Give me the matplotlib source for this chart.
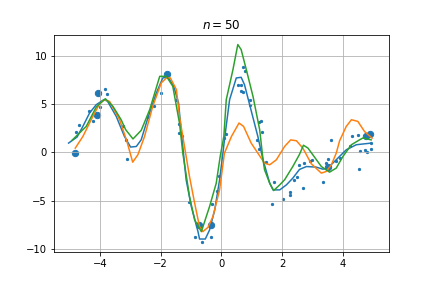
import numpy as np
import matplotlib
matplotlib.use("Agg")
import matplotlib.pyplot as plt

# Pontos de treino (pequenos)
x_pts = [-4.78, -4.69, -4.36, -4.22, -3.83, -3.77, -4.01, -3.25, -3.15, -3.11,
         -2.42, -2.22, -1.99, -1.49, -1.38, -1.41, -1.30, 0.07, 0.14, 0.70,
         0.79, 0.56, 0.66, 0.65, 0.71, 0.93, 0.95, 1.24, 1.31, 1.35,
         1.17, -0.13, -0.08, -1.08, -0.87, -0.64, -0.35, -0.32, 1.46, 1.23,
         1.66, 1.73, 2.03, 2.25, 2.25, 2.38, 2.49, 2.57, 2.72, 2.68,
         2.93, 2.99, 3.34, 3.45, 3.50, 3.76, 3.89, 4.22, 4.53, 4.55,
         4.72, 4.79, 4.94, 4.94, 3.60, 4.29, 4.49]
y_pts = [2.11, 2.79, 4.28, 3.30, 6.55, 6.04, 4.69, 2.69, 1.24, -0.68,
         3.62, 4.80, 6.17, 5.38, 2.97, 2.00, 1.65, 1.45, 1.90, 8.83,
         8.42, 6.97, 6.97, 6.31, 6.20, 5.45, 4.86, 3.10, 3.28, 2.07,
         1.24, -3.93, -2.38, -5.07, -8.69, -9.27, -8.69, -5.34, -1.03, 0.35,
         -5.30, -3.03, -4.82, -4.03, -4.37, -2.82, -2.55, -1.24, -1.10, -3.68,
         -0.86, -0.75, -3.00, -1.10, -0.69, -0.86, -0.52, 0.69, -1.72, 0.18,
         0.28, 0.00, 0.35, 0.97, 1.30, 1.66, 1.76]

# Pontos destacados (grandes)
x_big = [-4.83, -4.06, -4.10, -1.79, -0.75, -0.35, 3.50, 4.75, 4.88]
y_big = [-0.03, 6.14, 3.89, 8.14, -7.50, -7.50, -1.50, 1.70, 1.90]

# Curva azul
x_azul = [-5.03, -4.75, -4.56, -4.34, -4.12, -3.87, -3.75, -3.46, -3.19, -2.99,
          -2.80, -2.64, -2.42, -2.14, -1.93, -1.76, -1.57, -1.41, -1.30, -1.16,
          -0.99, -0.77, -0.72, -0.53, -0.39, -0.22, -0.06, 0.05, 0.10, 0.27,
          0.49, 0.65, 0.76, 0.93, 1.20, 1.37, 1.59, 1.70, 1.92, 2.14,
          2.35, 2.57, 2.80, 3.12, 3.34, 3.50, 3.78, 4.11, 4.44, 4.93]
y_azul = [0.97, 1.60, 2.69, 4.07, 4.93, 5.45, 5.30, 3.72, 1.65, 0.56,
          0.62, 1.31, 3.56, 6.14, 7.69, 7.80, 6.83, 5.10, 1.50, -2.82,
          -5.58, -8.17, -8.93, -8.93, -8.00, -5.93, -2.82, -0.07, 1.31, 5.45,
          7.69, 7.76, 7.00, 4.93, 1.65, -0.75, -3.17, -3.86, -3.86, -3.34,
          -2.65, -1.75, -1.45, -1.51, -1.72, -1.61, -0.75, 0.28, 0.80, 0.97]

# Curva laranja
x_laranja = [-4.81, -4.56, -4.23, -4.01, -3.85, -3.68, -3.35, -3.11, -2.92, -2.75,
             -2.53, -2.26, -1.98, -1.81, -1.68, -1.48, -1.38, -1.05, -0.88, -0.72,
             -0.61, -0.44, -0.28, -0.06, 0.10, 0.33, 0.58, 0.73, 0.98, 1.20,
             1.42, 1.59, 1.81, 2.08, 2.28, 2.47, 2.68, 2.80, 2.96, 3.29,
             3.45, 3.62, 3.78, 3.89, 4.11, 4.28, 4.49, 4.71, 4.96]
y_laranja = [0.45, 1.65, 3.72, 5.03, 5.45, 5.27, 3.38, 1.14, -1.00, -0.24,
             1.65, 4.76, 7.18, 7.69, 7.69, 6.48, 3.72, -2.48, -5.24, -7.65,
             -8.17, -7.72, -6.62, -3.86, -0.07, 1.65, 3.04, 2.69, 0.97, -0.07,
             -1.10, -1.27, -0.75, 0.62, 1.30, 1.21, 0.45, -0.24, -1.17, -2.13,
             -1.96, -1.27, -0.07, 1.20, 2.69, 3.38, 3.21, 2.17, 1.48]

# Curva verde
x_verde = [-4.92, -4.45, -4.12, -3.82, -3.57, -3.30, -3.15, -2.91, -2.64, -2.36,
           -2.03, -1.81, -1.60, -1.38, -1.27, -1.05, -0.88, -0.66, -0.39, -0.17,
           -0.04, 0.08, 0.16, 0.38, 0.54, 0.65, 0.82, 1.04, 1.26, 1.37,
           1.42, 1.59, 1.72, 1.92, 2.08, 2.35, 2.57, 2.70, 2.85, 3.01,
           3.29, 3.56, 3.78, 4.00, 4.28, 4.55, 4.66, 4.93]
y_verde = [1.25, 2.69, 4.69, 5.55, 4.76, 3.38, 2.35, 1.40, 2.28, 4.42,
           7.86, 7.86, 6.83, 3.04, -0.07, -4.55, -6.96, -8.17, -5.58, -3.17,
           -0.41, 1.65, 5.45, 8.55, 11.14, 10.62, 8.55, 5.79, 2.35, -0.75,
           -1.79, -3.17, -3.93, -3.34, -2.82, -1.45, -0.20, 0.75, 0.45, -0.24,
           -1.45, -2.03, -1.61, -0.41, 0.80, 1.31, 1.50, 1.30]

y_ticks = [-10, -5, 0, 5, 10]

fig = plt.figure(figsize=(6, 4), dpi=72)
plt.subplots_adjust(left=0.125, right=0.9, bottom=0.125, top=0.88)

plt.scatter(x_pts, y_pts, s=5, color="C0")
plt.scatter(x_big, y_big, s=40, color="C0")
plt.plot(x_azul, y_azul, color="C0")
plt.plot(x_laranja, y_laranja, color="C1")
plt.plot(x_verde, y_verde, color="C2")

plt.title("$n = 50$")
plt.xlim(-5.51, 5.51)
plt.ylim(-10.27, 12.17)
plt.yticks(y_ticks)
plt.grid(True)

plt.savefig("out.png", dpi=72)
